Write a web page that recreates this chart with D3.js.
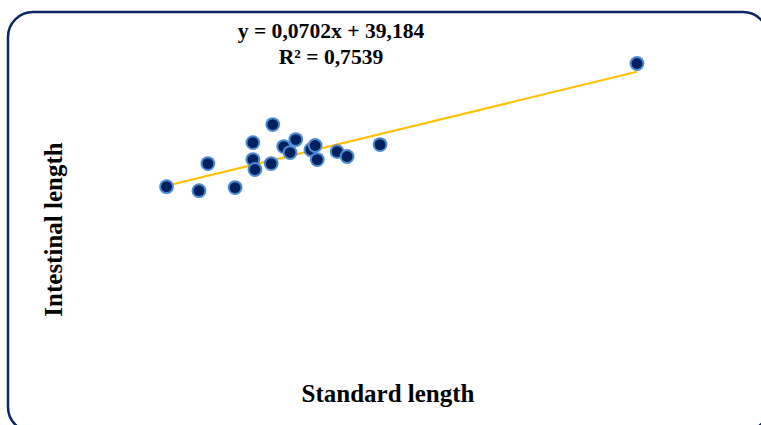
<!DOCTYPE html>
<html>
<head>
<meta charset="utf-8">
<script src="https://cdn.jsdelivr.net/npm/d3@7"></script>
<style>
    html, body { margin: 0; padding: 0; background: #ffffff; }
    svg { display: block; }
</style>
</head>
<body>
<svg id="chart"></svg>
<script>
// Standard length (x) and intestinal length (y)
const standardLength = [101, 163, 180, 232, 266, 266, 270, 304, 301, 325, 348, 337, 377, 385, 389, 427, 446, 509, 1000];
const intestinalLength = [45.8, 43.6, 58.6, 45.3, 70.2, 60.8, 55.3, 80.2, 58.6, 68.0, 71.9, 64.7, 66.3, 68.6, 60.8, 65.2, 62.5, 69.1, 114.0];

// Trend line from the chart label
const slope = 0.0702;
const intercept = 39.184;
const equationLines = ["y = 0,0702x + 39,184", "R² = 0,7539"];

const width = 761;
const height = 425;

const svg = d3.select("#chart")
    .attr("width", width)
    .attr("height", height);

// soft glow for the markers
const glow = svg.append("defs").append("filter")
    .attr("id", "glow")
    .attr("x", "-50%").attr("y", "-50%")
    .attr("width", "200%").attr("height", "200%");
glow.append("feGaussianBlur").attr("stdDeviation", 0.7);

// Rounded frame
svg.append("rect")
    .attr("x", 8)
    .attr("y", 12)
    .attr("width", 760)
    .attr("height", 420)
    .attr("rx", 25)
    .attr("fill", "none")
    .attr("stroke", "#0c2766")
    .attr("stroke-width", 2.5);

const x = d3.scaleLinear().domain([0, 1100]).range([113.7, 689.3]);
const y = d3.scaleLinear().domain([0, 130]).range([269.4, 34.6]);

const points = standardLength.map((d, i) => ({ x: d, y: intestinalLength[i] }));

// Linear trend line over the data range
const xExtent = d3.extent(standardLength);
const line = d3.line()
    .x((d) => x(d))
    .y((d) => y(slope * d + intercept));

svg.append("path")
    .datum(xExtent)
    .attr("d", line)
    .attr("fill", "none")
    .attr("stroke", "#ffc000")
    .attr("stroke-width", 2);

const marks = svg.selectAll("g.pt")
    .data(points)
    .enter()
    .append("g")
    .attr("class", "pt")
    .attr("transform", (d) => `translate(${x(d.x)},${y(d.y)})`);

marks.append("circle")
    .attr("r", 7.4)
    .attr("fill", "#4b8bd2")
    .attr("filter", "url(#glow)");

marks.append("circle")
    .attr("r", 5.4)
    .attr("fill", "#002060");

// Equation label
svg.append("g")
    .selectAll("text")
    .data(equationLines)
    .enter()
    .append("text")
    .attr("x", 331)
    .attr("y", (d, i) => 38 + i * 26)
    .attr("text-anchor", "middle")
    .style("font-family", "'Liberation Serif', 'Times New Roman', serif")
    .style("font-weight", "bold")
    .style("font-size", "21.6px")
    .attr("fill", "#000")
    .text((d) => d);

// Axis titles
svg.append("text")
    .attr("x", 388)
    .attr("y", 402)
    .attr("text-anchor", "middle")
    .style("font-family", "'Liberation Serif', 'Times New Roman', serif")
    .style("font-weight", "bold")
    .style("font-size", "25px")
    .text("Standard length");

svg.append("text")
    .attr("transform", "translate(62, 229.5) rotate(-90)")
    .attr("text-anchor", "middle")
    .style("font-family", "'Liberation Serif', 'Times New Roman', serif")
    .style("font-weight", "bold")
    .style("font-size", "25px")
    .text("Intestinal length");
</script>
</body>
</html>
